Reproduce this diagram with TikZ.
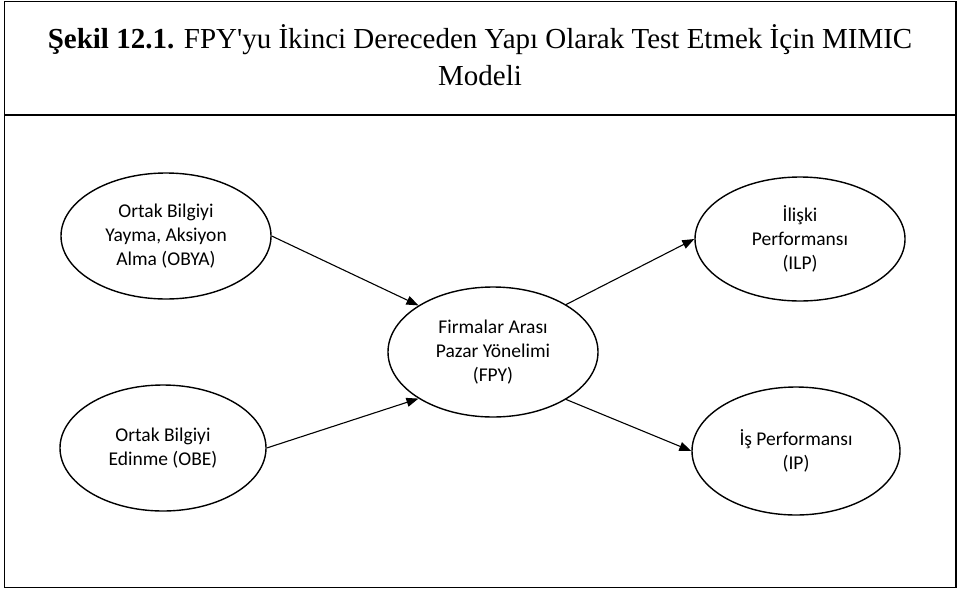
\documentclass[tikz,border=0pt]{standalone}
\usepackage{fontspec}
\setmainfont{Liberation Serif}
\newfontfamily\bubblefont{Carlito}
\usetikzlibrary{shapes.geometric,arrows.meta}

\begin{document}
\begin{tikzpicture}[x=1pt, y=-1pt,
        latent/.style={draw, ellipse, line width=1.4pt, inner sep=0pt,
            align=center, font=\bubblefont\fontsize{19.5}{24}\selectfont},
        link/.style={line width=1.1pt, -{Triangle[length=12pt,width=9pt]}}]
        \useasboundingbox (0,0) rectangle (957,589);
        % frame and title
        \draw[line width=1.8pt] (4.5,1.5) rectangle (956,587.5);
        \draw[line width=1.8pt] (4.5,115) -- (956,115);
        \node[align=center, font=\fontsize{29}{37}\selectfont] (title) at (480,55)
            {\textbf{Şekil 12.1.} FPY{\XeTeXglyph\XeTeXcharglyph"0027\relax}yu İkinci Dereceden Yapı Olarak Test Etmek İçin MIMIC\\Modeli};

        % constructs
        \node[latent, minimum width=210pt, minimum height=126pt] (obya) at (166,236) {Ortak Bilgiyi\\Yayma, Aksiyon\\Alma (OBYA)};
        \node[latent, minimum width=206pt, minimum height=126pt] (obe) at (163,448) {Ortak Bilgiyi\\Edinme (OBE)};
        \node[latent, minimum width=210pt, minimum height=130pt] (fpy) at (493,352) {Firmalar Arası\\Pazar Yönelimi\\(FPY)};
        \node[latent, minimum width=210pt, minimum height=124pt] (ilp) at (800,239) {İlişki\\Performansı\\(ILP)};
        \node[latent, minimum width=208pt, minimum height=128pt] (ip) at (796,451) {İş Performansı\\(IP)};

        % paths
        \draw[link] (obya.east) -- (fpy.148);
        \draw[link] (obe.east) -- (fpy.212);
        \draw[link] (fpy.33) -- (ilp.west);
        \draw[link] (fpy.327) -- (ip.west);
\end{tikzpicture}
\end{document}
